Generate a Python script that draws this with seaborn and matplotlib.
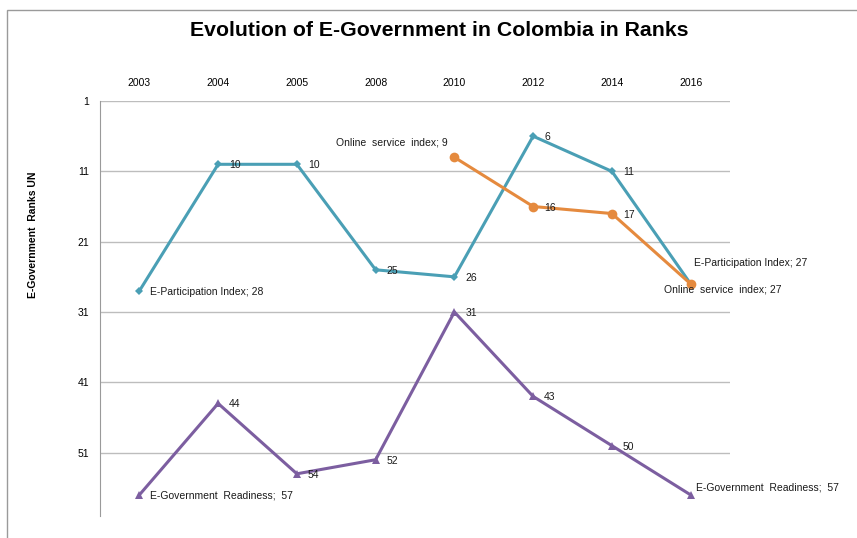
import numpy as np
import pandas as pd
import seaborn as sns
import matplotlib.pyplot as plt
from matplotlib.patches import Rectangle

# Data (UN ranks, lower is better)
years = ['2003', '2004', '2005', '2008', '2010', '2012', '2014', '2016']
e_participation = [28, 10, 10, 25, 26, 6, 11, 27]
online_years = ['2010', '2012', '2014', '2016']
online_service = [9, 16, 17, 27]
e_readiness = [57, 44, 54, 52, 31, 43, 50, 57]
y_ticks = [1, 11, 21, 31, 41, 51]

s_part = 'E-Participation Index'
s_online = 'Online service index'
s_ready = 'E-Government Readiness'

df = pd.concat([
    pd.DataFrame({'year': years, 'rank': e_participation, 'series': s_part}),
    pd.DataFrame({'year': online_years, 'rank': online_service, 'series': s_online}),
    pd.DataFrame({'year': years, 'rank': e_readiness, 'series': s_ready}),
], ignore_index=True)
df['pos'] = df['year'].map({y: i for i, y in enumerate(years)})

sns.set_style("white")
plt.rcParams['font.family'] = ['Liberation Sans', 'DejaVu Sans']
plt.rcParams['text.color'] = 'black'
plt.rcParams['xtick.color'] = 'black'
plt.rcParams['ytick.color'] = 'black'

fig = plt.figure(figsize=(8.57, 5.38), dpi=100)
ax = fig.add_axes([100 / 857, 1 - 516 / 538, 630 / 857, 415 / 538])

# chart frame
fig.patches.append(Rectangle((7 / 857, -0.05), 1.2, 1 - 10 / 538 + 0.05,
                             transform=fig.transFigure, fill=False,
                             edgecolor='#9a9a9a', lw=1.0))

palette = {s_part: '#4a9fb5', s_online: '#e58a3e', s_ready: '#7c5ea0'}
markers = {s_part: 'D', s_online: 'o', s_ready: '^'}
sizes = {s_part: 4, s_online: 7, s_ready: 6}

for name in [s_part, s_online, s_ready]:
    sub = df[df.series == name]
    sns.lineplot(data=sub, x='pos', y='rank', color=palette[name], marker=markers[name],
                 markersize=sizes[name], markeredgewidth=0, linewidth=2.2, ax=ax,
                 legend=False, zorder=3)

ax.set_xlim(-0.5, len(years) - 0.5)
ax.set_ylim(60, 1)
ax.set_yticks(y_ticks)
ax.set_yticklabels([str(t) for t in y_ticks], fontsize=7.5)
ax.set_xticks(range(len(years)))
ax.set_xticklabels(years, fontsize=7.5)
ax.xaxis.tick_top()
ax.tick_params(axis='x', length=0, pad=9)
ax.tick_params(axis='y', length=0, pad=8)
ax.grid(axis='y', color='#bdbdbd', lw=1)
ax.grid(axis='x', visible=False)
for side in ['right', 'bottom', 'top']:
    ax.spines[side].set_visible(False)
ax.spines['left'].set_color('#9a9a9a')
ax.set_xlabel('')
ax.set_ylabel('')

fig.text(33 / 857, 1 - 235 / 538, 'E-Government  Ranks UN', rotation=90,
         fontsize=7.5, fontweight='bold', ha='center', va='center')
fig.text(439 / 857, 1 - 31 / 538, 'Evolution of E-Government in Colombia in Ranks',
         fontsize=15.3, fontweight='bold', ha='center', va='center')

# data labels next to each point
lab_kw = dict(textcoords='offset pixels', fontsize=7.5, va='center', color='#1a1a1a')

def label(i, v, txt, dx=11, dy=-1, ha='left'):
    ax.annotate(txt, (i, v), xytext=(dx, dy), ha=ha, **lab_kw)

for i, v in enumerate(e_participation):
    if i == 0:
        label(i, v, 'E-Participation Index; 28')
    elif i == len(years) - 1:
        label(i, v, 'E-Participation Index; 27', dx=3, dy=21)
    else:
        label(i, v, str(v))

for j, v in enumerate(online_service):
    i = years.index(online_years[j])
    if j == 0:
        label(i, v, 'Online  service  index; 9', dx=-7, dy=15, ha='right')
    elif j == len(online_service) - 1:
        label(i, v, 'Online  service  index; 27', dx=-27, dy=-6)
    else:
        label(i, v, str(v))

for i, v in enumerate(e_readiness):
    if i == 0:
        label(i, v, 'E-Government  Readiness;  57')
    elif i == len(years) - 1:
        label(i, v, 'E-Government  Readiness;  57', dx=5, dy=7)
    else:
        label(i, v, str(v))

plt.savefig('out.png', dpi=100)
